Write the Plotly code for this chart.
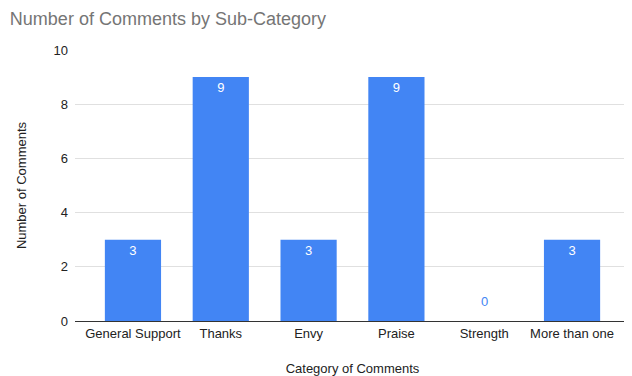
import plotly.graph_objects as go

categories = ["General Support", "Thanks", "Envy", "Praise", "Strength", "More than one"]
counts = [3, 9, 3, 9, 0, 3]
y_ticks = [0, 2, 4, 6, 8, 10]

FONT = "Liberation Sans, Arial"

fig = go.Figure()
fig.add_trace(go.Bar(
    x=categories,
    y=counts,
    width=0.64,
    marker=dict(color="#4285F4", line=dict(width=0)),
    text=[str(v) if v > 0 else "" for v in counts],
    textposition="inside",
    insidetextanchor="end",
    insidetextfont=dict(color="white", size=13, family=FONT),
    cliponaxis=False,
    hoverinfo="skip",
))

# labels for zero-valued bars, drawn just above the baseline
for c, v in zip(categories, counts):
    if v == 0:
        fig.add_annotation(x=c, y=v, text=str(v), showarrow=False, yshift=20,
                           font=dict(color="#4285F4", size=13, family=FONT))

fig.update_layout(
    width=624, height=368,
    margin=dict(l=67, r=2, t=42, b=55),
    paper_bgcolor="white", plot_bgcolor="white",
    font=dict(family=FONT, size=13, color="#222222"),
    title=dict(text="Number of Comments by Sub-Category", x=0.003, xanchor="left",
               y=0.970, yanchor="middle",
               font=dict(size=18, color="#757575", family=FONT)),
    showlegend=False,
)
fig.update_xaxes(
    range=[-0.66, 5.66],
    showgrid=False, showline=True, linecolor="#333333", linewidth=1,
    ticks="", tickfont=dict(size=13, color="#222222"),
    title=dict(text="Category of Comments", font=dict(size=13, color="#222222"), standoff=24),
)
fig.update_yaxes(
    range=[0, 10], tickvals=y_ticks,
    showgrid=True, gridcolor="#e0e0e0", gridwidth=1, zeroline=False,
    ticks="", ticklabelstandoff=6, tickfont=dict(size=13, color="#222222"),
    title=dict(text="Number of Comments", font=dict(size=13, color="#222222"), standoff=23),
)

fig.write_html("out.html")
